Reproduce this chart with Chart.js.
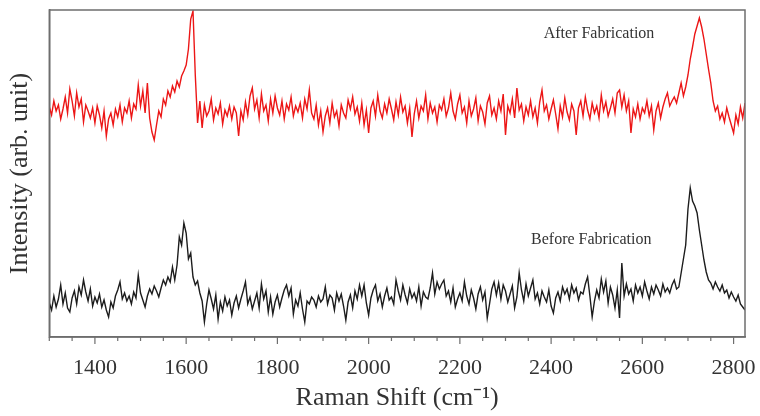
<!DOCTYPE html>
<html>
<head>
<meta charset="utf-8">
<script src="https://cdn.jsdelivr.net/npm/chart.js@4"></script>
<style>
  body { margin: 0; background: #fff; }
  #wrap { width: 760px; height: 416px; }
</style>
</head>
<body>
<div id="wrap"><canvas id="chartRaman" width="760" height="416"></canvas></div>
<script>
// Raman shift grid (cm-1), sampled every 5
const shiftStart = 1300;
const shiftStep = 5;

const seriesNames = ['After Fabrication', 'Before Fabrication'];
const tickLabels = [1400, 1600, 1800, 2000, 2200, 2400, 2600, 2800];

// intensities (arb. unit)
const afterFabrication = [
  230, 222, 236, 226, 232, 218, 228, 240, 224, 248,
  236, 221, 244, 230, 238, 215, 232, 226, 219, 229,
  214, 231, 222, 209, 226, 201, 218, 224, 212, 228,
  220, 232, 215, 229, 224, 236, 219, 233, 228, 252,
  231, 246, 224, 254, 219, 205, 197, 212, 226, 220,
  238, 232, 246, 240, 251, 245, 256, 250, 261, 266,
  272, 288, 318, 326, 262, 214, 236, 209, 232, 221,
  226, 238, 217, 229, 223, 234, 213, 227, 221, 231,
  218, 230, 224, 201, 226, 217, 235, 222, 241, 249,
  228, 237, 219, 243, 226, 232, 216, 238, 224, 241,
  229, 222, 236, 218, 233, 227, 240, 221, 231, 225,
  234, 219, 238, 228, 247, 224, 218, 232, 212, 226,
  205, 221, 229, 214, 234, 220, 226, 211, 232, 224,
  219, 237, 228, 240, 223, 230, 216, 234, 212, 227,
  204, 229, 236, 221, 242, 226, 219, 233, 224, 238,
  228, 217, 235, 222, 240, 225, 231, 214, 229, 200,
  223, 236, 219, 231, 226, 242, 218, 234, 224, 230,
  215, 232, 227, 238, 221, 229, 244, 226, 218, 233,
  242, 224, 230, 214, 236, 221, 228, 239, 216, 231,
  225, 213, 234, 241, 222, 229, 218, 236, 226, 243,
  202, 231, 224, 238, 219, 249, 227, 233, 216, 230,
  222, 236, 220, 229, 214, 235, 247, 226, 232, 218,
  228, 237, 223, 208, 231, 220, 239, 225, 217, 233,
  226, 202, 229, 236, 221, 240, 227, 218, 234, 224,
  231, 219, 242, 226, 235, 221, 229, 238, 224, 244,
  247, 230, 242, 226, 236, 204, 228, 220, 233, 218,
  229, 224, 236, 221, 231, 207, 226, 234, 219, 230,
  238, 244, 231, 236, 240, 234, 244, 254, 241, 250,
  262, 278, 290, 303, 311, 319, 310, 298, 283, 268,
  254, 236, 226, 231, 218, 224, 215, 229, 220, 212,
  204, 222, 213, 230, 219, 234
];

const beforeFabrication = [
  34, 27, 41, 30, 38, 52, 33, 44, 29, 25,
  39, 46, 33, 50, 42, 57, 45, 36, 48, 31,
  40, 34, 43, 30, 37, 27, 20, 35, 29, 41,
  47, 55, 38, 44, 36, 41, 33, 45, 39, 62,
  44, 37, 30, 41, 48, 43, 51, 46, 40, 49,
  57, 52, 60, 55, 70, 57, 72, 100, 92, 114,
  104, 78, 84, 60, 52, 56, 44, 36, 15, 33,
  47, 38, 28, 42, 18, 35, 26, 40, 31, 37,
  22, 34, 41, 29, 38, 46, 55, 33, 40, 28,
  36, 44, 29, 53, 38, 46, 25, 40, 23, 35,
  42, 30, 39, 47, 52, 41, 49, 23, 37, 31,
  44, 28, 15, 36, 33, 40, 37, 30, 41, 35,
  38, 50, 33, 42, 39, 27, 44, 36, 43, 31,
  17, 35, 42, 29, 46, 38, 52, 41, 52, 34,
  22, 39, 47, 52, 36, 43, 30, 41, 49, 37,
  40, 33, 57, 46, 37, 52, 42, 34, 48, 39,
  44, 36, 50, 31, 45, 40, 38, 49, 64, 43,
  55, 48, 53, 57, 41, 46, 35, 49, 30, 38,
  44, 36, 55, 41, 33, 47, 39, 28, 43, 50,
  37, 45, 19, 33, 48, 55, 42, 54, 38, 52,
  46, 35, 43, 51, 29, 40, 64, 47, 36, 53,
  41, 49, 57, 38, 44, 33, 46, 40, 35, 47,
  31, 24, 39, 45, 36, 50, 43, 48, 38, 52,
  44, 49, 37, 45, 43, 53, 60, 41, 20, 36,
  47, 39, 58, 45, 56, 34, 50, 42, 29, 47,
  19, 74, 41, 53, 43, 48, 36, 52, 44, 50,
  41, 55, 46, 38, 50, 43, 52, 47, 41, 53,
  45, 49, 44, 52, 57, 48, 50, 64, 78, 92,
  128, 149, 136, 131, 124, 107, 92, 77, 65, 57,
  54, 48, 55, 50, 46, 52, 44, 47, 39, 45,
  40, 36, 42, 33, 30, 27
];

const ramanShift = afterFabrication.map((_, i) => shiftStart + i * shiftStep);

const serif = 'Liberation Serif, Times New Roman, serif';
const frameColor = '#6e6e6e';
const textColor = '#333';

// box round the plot, minor/major ticks and the two series notes
const framePlugin = {
  id: 'frame',
  afterDraw(chart) {
    const { ctx, chartArea: a, scales } = chart;
    const xs = scales.x, ys = scales.y;
    ctx.save();
    ctx.strokeStyle = frameColor;
    ctx.lineWidth = 1.5;
    ctx.strokeRect(a.left, a.top, a.right - a.left, a.bottom - a.top);

    ctx.lineWidth = 1.2;
    xs.ticks.forEach(t => {
      if (t.value % 50 !== 0) return;
      const px = xs.getPixelForValue(t.value);
      const len = tickLabels.includes(t.value) ? 7 : 4;
      ctx.beginPath();
      ctx.moveTo(px, a.bottom);
      ctx.lineTo(px, a.bottom + len);
      ctx.stroke();
    });

    ctx.fillStyle = textColor;
    ctx.font = '16px ' + serif;
    ctx.textAlign = 'center';
    ctx.textBaseline = 'middle';
    ctx.fillText(seriesNames[0], xs.getPixelForValue(2505), ys.getPixelForValue(303));
    ctx.fillText(seriesNames[1], xs.getPixelForValue(2488), ys.getPixelForValue(97));
    ctx.restore();
  }
};

const chartRef = document.querySelector('#chartRaman');

chartRef.chart = new Chart(chartRef, {
  type: 'line',
  data: {
    datasets: [{
      label: seriesNames[0],
      data: ramanShift.map((x, i) => ({ x: x, y: afterFabrication[i] })),
      borderColor: 'rgb(236, 22, 22)',
      borderWidth: 1.4,
      pointRadius: 0,
      tension: 0
    }, {
      label: seriesNames[1],
      data: ramanShift.map((x, i) => ({ x: x, y: beforeFabrication[i] })),
      borderColor: '#1c1c1c',
      borderWidth: 1.4,
      pointRadius: 0,
      tension: 0
    }]
  },
  options: {
    responsive: false,
    animation: false,
    layout: { padding: { left: 0, right: 15, top: 10, bottom: 2 } },
    plugins: {
      legend: { display: false },
      tooltip: { enabled: false }
    },
    scales: {
      x: {
        type: 'linear',
        min: 1300,
        max: 2825,
        grid: { display: false, drawTicks: false },
        border: { color: frameColor, width: 1.5 },
        ticks: {
          stepSize: 50,
          includeBounds: false,
          autoSkip: false,
          maxRotation: 0,
          padding: 17.8,
          color: textColor,
          font: { family: serif, size: 22 },
          callback: v => tickLabels.includes(v) ? String(v) : ''
        },
        title: {
          display: true,
          text: 'Raman Shift (cm⁻¹)',
          color: textColor,
          font: { family: serif, size: 26 },
          padding: { top: -16.2, bottom: 0 }
        },
        // the 2800 label may overhang the right edge, as in the original
        afterFit: s => { s.paddingLeft = 0; s.paddingRight = 0; }
      },
      y: {
        min: 0,
        max: 327,
        grid: { display: false, drawTicks: false },
        border: { color: frameColor, width: 1.5 },
        ticks: { display: false },
        title: {
          display: true,
          text: 'Intensity (arb. unit)',
          color: textColor,
          font: { family: serif, size: 26 },
          padding: { top: 4.9, bottom: 13.2 }
        }
      }
    }
  },
  plugins: [framePlugin]
});
</script>
</body>
</html>
